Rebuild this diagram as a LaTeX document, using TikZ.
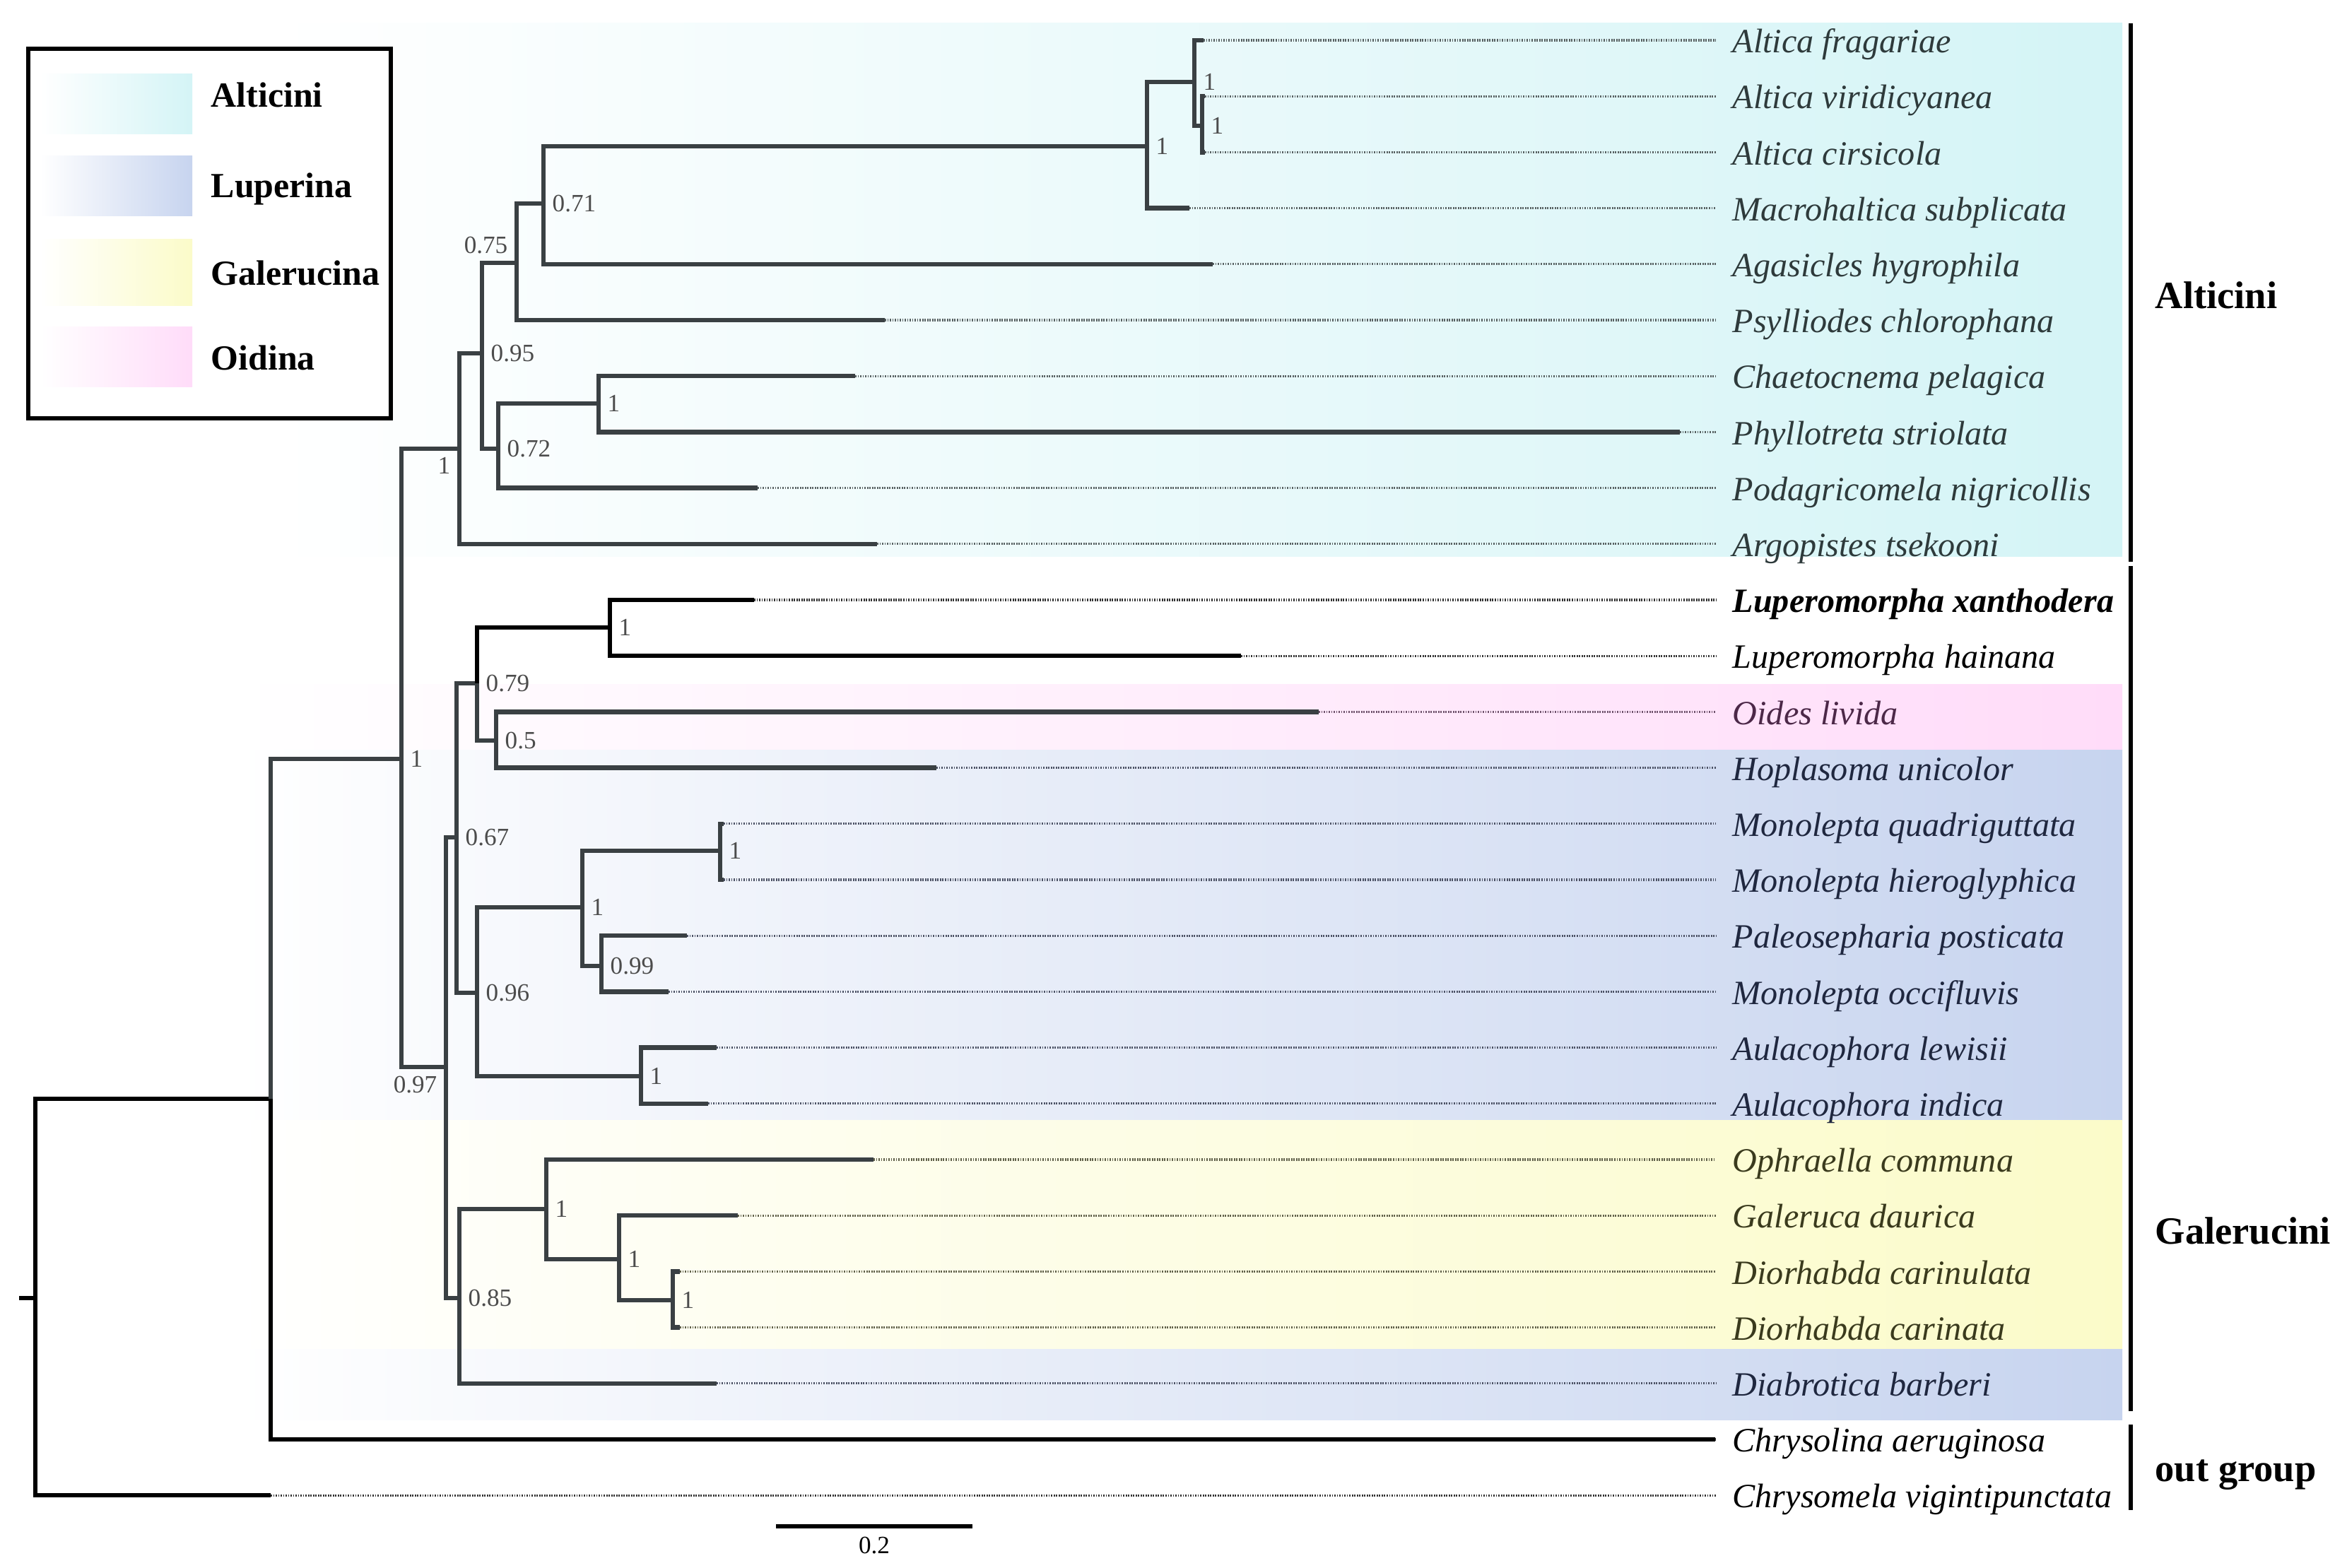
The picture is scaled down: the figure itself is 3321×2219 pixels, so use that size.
\documentclass[tikz,border=0pt]{standalone}
\usepackage{fontspec}
\setmainfont{Liberation Serif}
\usepackage{tikz}

\definecolor{altband}{HTML}{D4F4F6}
\definecolor{lupband}{HTML}{C7D4EF}
\definecolor{galband}{HTML}{FBFBC9}
\definecolor{oidband}{HTML}{FFDCF9}
\definecolor{txtalt}{HTML}{2E3A3B}
\definecolor{txtlup}{HTML}{1F273F}
\definecolor{txtgal}{HTML}{3A3A1D}
\definecolor{txtoid}{HTML}{4C2848}
\definecolor{txtout}{HTML}{000000}
\definecolor{brgray}{HTML}{3A4043}

\tikzset{
  branch/.style = {line width=1.8pt, draw=brgray},
  branchk/.style = {line width=1.8pt, draw=black},
  leader/.style = {line width=0.9pt, dash pattern=on 0.5pt off 0.5pt},
  leaf/.style = {anchor=west, inner xsep=0.23cm, inner ysep=0pt, text height=13.5pt, text depth=3.4pt, font=\fontsize{13.7}{16}\selectfont\itshape},
  supp/.style = {inner sep=0.12cm, text=black!70, font=\fontsize{10}{12}\selectfont},
  grp/.style = {anchor=base west, inner sep=0pt, font=\fontsize{15.5}{18}\selectfont\bfseries},
  keytext/.style = {anchor=base west, inner sep=0pt, font=\fontsize{14.2}{17}\selectfont\bfseries},
}

\begin{document}
\begin{tikzpicture}[x=0.01cm, y=-0.01cm]
  \useasboundingbox (0,0) rectangle (3321,2219);

  % coloured bands behind the tips
  \shade[left color=white, right color=altband] (390,33) rectangle (3003,788);
  \shade[left color=white, right color=oidband] (330,969) rectangle (3003,1061);
  \shade[left color=white, right color=lupband] (330,1061) rectangle (3003,1585);
  \shade[left color=white, right color=galband] (330,1585) rectangle (3003,1909);
  \shade[left color=white, right color=lupband] (330,1909) rectangle (3003,2009);

  % legend
  \draw[line width=1.5pt, fill=white] (40,69) rectangle (553,592);
  \shade[left color=white, right color=altband] (57,105) rectangle (272,190);
  \shade[left color=white, right color=lupband] (57,221) rectangle (272,306);
  \shade[left color=white, right color=galband] (57,339) rectangle (272,433);
  \shade[left color=white, right color=oidband] (57,463) rectangle (272,548);
  \node[keytext] (kalt) at (298,152) {Alticini};
  \node[keytext] (klup) at (298,280) {Luperina};
  \node[keytext] (kgal) at (298,404) {Galerucina};
  \node[keytext] (koid) at (298,524) {Oidina};

  % tips, labels and dotted leaders
  \foreach \n/\tx/\g/\txt in {
      1/1703/alt/Altica fragariae,
      2/1705/alt/Altica viridicyanea,
      3/1705/alt/Altica cirsicola,
      4/1683/alt/Macrohaltica subplicata,
      5/1716/alt/Agasicles hygrophila,
      6/1252/alt/Psylliodes chlorophana,
      7/1210/alt/Chaetocnema pelagica,
      8/2377/alt/Phyllotreta striolata,
      9/1072/alt/Podagricomela nigricollis,
      10/1241/alt/Argopistes tsekooni,
      11/1067/out/{\bfseries Luperomorpha xanthodera},
      12/1756/out/Luperomorpha hainana,
      13/1866/oid/Oides livida,
      14/1325/lup/Hoplasoma unicolor,
      15/1024/lup/Monolepta quadriguttata,
      16/1024/lup/Monolepta hieroglyphica,
      17/972/lup/Paleosepharia posticata,
      18/946/lup/Monolepta occifluvis,
      19/1014/lup/Aulacophora lewisii,
      20/1002/lup/Aulacophora indica,
      21/1236/gal/Ophraella communa,
      22/1044/gal/Galeruca daurica,
      23/962/gal/Diorhabda carinulata,
      24/962/gal/Diorhabda carinata,
      25/1014/lup/Diabrotica barberi,
      26/2427/out/Chrysolina aeruginosa,
      27/383/out/Chrysomela vigintipunctata}{
    \coordinate (t\n) at (\tx,{57+(\n-1)*79.2});
    \node[leaf, text=txt\g] (l\n) at (2428,{57+(\n-1)*79.2}) {\txt};
    \draw[leader, draw=txt\g!80] (t\n) -- (l\n.west);
  }

  % inner nodes
  \coordinate (stub) at (27,1837);
  \coordinate (root) at (50,1837);
  \coordinate (nA) at (383,1555);
  \coordinate (nB) at (568,1074);
  \coordinate (nC) at (650,635);
  \coordinate (nD) at (682,500);
  \coordinate (nF) at (731,372);
  \coordinate (nE) at (769,288);
  \coordinate (nI) at (1623,207);
  \coordinate (nJ) at (1690,116);
  \coordinate (nK) at (1701,178);
  \coordinate (nG) at (705,635);
  \coordinate (nH) at (847,571);
  \coordinate (nL) at (631,1510);
  \coordinate (nM) at (646,1185);
  \coordinate (nN) at (675,967);
  \coordinate (nO) at (863,888);
  \coordinate (nP) at (702,1048);
  \coordinate (nQ) at (675,1405);
  \coordinate (nR) at (824,1284);
  \coordinate (nS) at (1019,1204);
  \coordinate (nT) at (851,1367);
  \coordinate (nU) at (907,1523);
  \coordinate (nV) at (650,1837);
  \coordinate (nW) at (773,1711);
  \coordinate (nX) at (876,1782);
  \coordinate (nY) at (952,1840);

  % branches
  \draw[branchk] (stub) -- (root);
  \draw[branchk] (root) |- (nA) (root) |- (t27) (nA) |- (t26);
  \draw[branch] (nA) |- (nB);
  \draw[branch] (nB) |- (nC) (nB) |- (nL);
  \draw[branch] (nC) |- (nD) (nC) |- (t10);
  \draw[branch] (nD) |- (nF) (nD) |- (nG);
  \draw[branch] (nF) |- (nE) (nF) |- (t6);
  \draw[branch] (nE) |- (nI) (nE) |- (t5);
  \draw[branch] (nI) |- (nJ) (nI) |- (t4);
  \draw[branch] (nJ) |- (t1) (nJ) |- (nK);
  \draw[branch] (nK) |- (t2) (nK) |- (t3);
  \draw[branch] (nG) |- (nH) (nG) |- (t9);
  \draw[branch] (nH) |- (t7) (nH) |- (t8);
  \draw[branch] (nL) |- (nM) (nL) |- (nV);
  \draw[branch] (nM) |- (nN) (nM) |- (nQ);
  \draw[branchk] (nN) |- (nO);
  \draw[branchk] (nO) |- (t11) (nO) |- (t12);
  \draw[branch] (nN) |- (nP);
  \draw[branch] (nP) |- (t13) (nP) |- (t14);
  \draw[branch] (nQ) |- (nR) (nQ) |- (nU);
  \draw[branch] (nR) |- (nS) (nR) |- (nT);
  \draw[branch] (nS) |- (t15) (nS) |- (t16);
  \draw[branch] (nT) |- (t17) (nT) |- (t18);
  \draw[branch] (nU) |- (t19) (nU) |- (t20);
  \draw[branch] (nV) |- (nW) (nV) |- (t25);
  \draw[branch] (nW) |- (t21) (nW) |- (nX);
  \draw[branch] (nX) |- (t22) (nX) |- (nY);
  \draw[branch] (nY) |- (t23) (nY) |- (t24);

  % support values
  \node[supp, anchor=west] (sB) at (nB) {1};
  \node[supp, anchor=north east] (sC) at (nC) {1};
  \node[supp, anchor=west] (sD) at (nD) {0.95};
  \node[supp, anchor=south east] (sF) at (nF) {0.75};
  \node[supp, anchor=west] (sE) at (nE) {0.71};
  \node[supp, anchor=west] (sI) at (nI) {1};
  \node[supp, anchor=west] (sJ) at (nJ) {1};
  \node[supp, anchor=west] (sK) at (nK) {1};
  \node[supp, anchor=west] (sG) at (nG) {0.72};
  \node[supp, anchor=west] (sH) at (nH) {1};
  \node[supp, anchor=north east] (sL) at (nL) {0.97};
  \node[supp, anchor=west] (sM) at (nM) {0.67};
  \node[supp, anchor=west] (sN) at (nN) {0.79};
  \node[supp, anchor=west] (sO) at (nO) {1};
  \node[supp, anchor=west] (sP) at (nP) {0.5};
  \node[supp, anchor=west] (sQ) at (nQ) {0.96};
  \node[supp, anchor=west] (sR) at (nR) {1};
  \node[supp, anchor=west] (sS) at (nS) {1};
  \node[supp, anchor=west] (sT) at (nT) {0.99};
  \node[supp, anchor=west] (sU) at (nU) {1};
  \node[supp, anchor=west] (sV) at (nV) {0.85};
  \node[supp, anchor=west] (sW) at (nW) {1};
  \node[supp, anchor=west] (sX) at (nX) {1};
  \node[supp, anchor=west] (sY) at (nY) {1};

  % group brackets
  \draw[line width=1.5pt] (3015,33) -- (3015,795);
  \draw[line width=1.5pt] (3015,801) -- (3015,1997);
  \draw[line width=1.5pt] (3015,2016) -- (3015,2137);
  \node[grp] (galt) at (3049,437) {Alticini};
  \node[grp] (ggal) at (3049,1760) {Galerucini};
  \node[grp] (gout) at (3049,2096) {out group};

  % scale bar
  \coordinate (sb1) at (1098,2160);
  \coordinate (sb2) at (1376,2160);
  \draw[line width=1.7pt] (sb1) -- (sb2) node[supp, midway, below, text=black] (sbl) {0.2};
\end{tikzpicture}
\end{document}
